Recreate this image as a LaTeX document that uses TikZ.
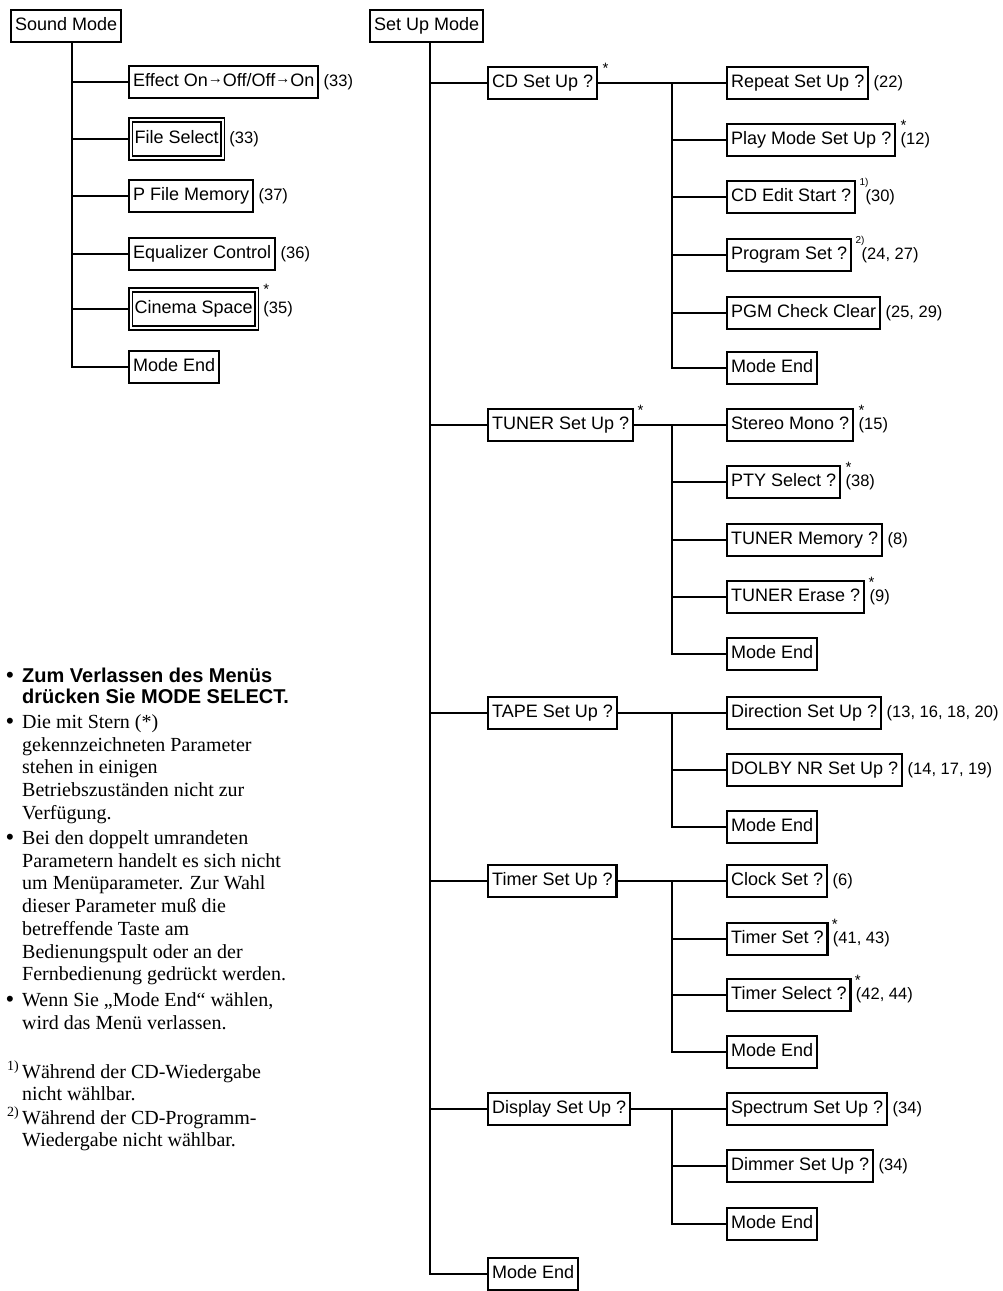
\documentclass[tikz,border=0pt]{standalone}
\usepackage{fontspec}
\setmainfont{Liberation Sans}
\newfontfamily\notefont{Liberation Serif}
\usetikzlibrary{positioning}

\newcommand\sarr{{\fontsize{15}{15}\selectfont\raisebox{3pt}{→}}}
\newcommand\lines[1]{\begin{tabular}[t]{@{}l@{}}#1\end{tabular}}

\tikzset{
  menu/.style={draw, line width=2.4pt, anchor=west, font=\fontsize{18}{18}\selectfont,
    inner xsep=4pt, inner ysep=0pt, minimum height=31.5pt, text height=13pt, text depth=4pt},
  dmenu/.style={menu, double, double distance=2pt, line width=1.6pt, minimum height=38pt, outer sep=2.6pt},
  pg/.style={font=\fontsize{16.5}{16.5}\selectfont, inner sep=2pt, text height=13pt, text depth=4pt},
  star/.style={font=\fontsize{15}{15}\selectfont, inner sep=0pt},
  fnm/.style={font=\fontsize{10}{10}\selectfont, inner sep=0pt, anchor=north west},
  link/.style={line width=2.4pt},
  note/.style={anchor=base west, inner sep=0pt, font=\notefont\fontsize{20}{22.7}\selectfont},
  notebf/.style={anchor=base west, inner sep=0pt, font=\fontsize{20}{21}\selectfont\bfseries},
  bul/.style={anchor=base west, inner sep=0pt, font=\fontsize{22}{22}\selectfont},
}

\begin{document}
\begin{tikzpicture}[x=1pt,y=-1pt]
\useasboundingbox (0,0) rectangle (1002,1291);

% sound mode
\node[menu] (sm) at (10,26) {Sound Mode};
\node[menu] (sm1) at (128,82) {Effect On\sarr Off/Off\sarr On};
\node[dmenu] (sm2) at (128,139) {File Select};
\node[menu] (sm3) at (128,196) {P File Memory};
\node[menu] (sm4) at (128,254) {Equalizer Control};
\node[dmenu] (sm5) at (128,309) {Cinema Space};
\node[menu] (sm6) at (128,367) {Mode End};
\node[pg, right=2pt of sm1] (p1) {(33)};
\node[pg, right=2pt of sm2] (p2) {(33)};
\node[pg, right=2pt of sm3] (p3) {(37)};
\node[pg, right=2pt of sm4] (p4) {(36)};
\node[pg, right=2pt of sm5] (p5) {(35)};
\node[star] (s5) at ([xshift=7pt,yshift=-2pt]sm5.north east) {*};
\foreach \i in {1,...,6}
  \draw[link] ([xshift=6pt]sm.south) |- (sm\i.west);

% set up mode
\node[menu] (su) at (369,26) {Set Up Mode};
\node[menu] (cd) at (487,83) {CD Set Up ?};
\node[menu] (tu) at (487,425) {TUNER Set Up ?};
\node[menu] (ta) at (487,713) {TAPE Set Up ?};
\node[menu] (ti) at (487,881) {Timer Set Up ?};
\node[menu] (di) at (487,1109) {Display Set Up ?};
\node[menu] (me) at (487,1274) {Mode End};
\node[star] (scd) at ([xshift=7pt,yshift=-2pt]cd.north east) {*};
\node[star] (stu) at ([xshift=6pt,yshift=-2pt]tu.north east) {*};
\foreach \n in {cd,tu,ta,ti,di,me}
  \draw[link] ([xshift=3.5pt]su.south) |- (\n.west);

% cd
\node[menu] (cd1) at (726,83) {Repeat Set Up ?};
\node[menu] (cd2) at (726,140) {Play Mode Set Up ?};
\node[menu] (cd3) at (726,197) {CD Edit Start ?};
\node[menu] (cd4) at (726,255) {Program Set ?};
\node[menu] (cd5) at (726,313) {PGM Check Clear};
\node[menu] (cd6) at (726,368) {Mode End};
\node[pg, right=2pt of cd1] (q1) {(22)};
\node[pg, right=2pt of cd2] (q2) {(12)};
\node[star] (s2) at ([xshift=7pt,yshift=-2pt]cd2.north east) {*};
\node[fnm] (f1) at ([xshift=3pt,yshift=2pt]cd3.north east) {1)};
\node[pg, right=7pt of cd3] (q3) {(30)};
\node[fnm] (f2) at ([xshift=3pt,yshift=2pt]cd4.north east) {2)};
\node[pg, right=7pt of cd4] (q4) {(24, 27)};
\node[pg, right=2pt of cd5] (q5) {(25, 29)};
\coordinate (cdj) at (672,83);
\draw[link] (cd.east) -- (cd1.west);
\foreach \i in {2,...,6}
  \draw[link] (cdj) |- (cd\i.west);

% tuner
\node[menu] (tu1) at (726,425) {Stereo Mono ?};
\node[menu] (tu2) at (726,482) {PTY Select ?};
\node[menu] (tu3) at (726,540) {TUNER Memory ?};
\node[menu] (tu4) at (726,597) {TUNER Erase ?};
\node[menu] (tu5) at (726,654) {Mode End};
\node[star] (t1) at ([xshift=7pt,yshift=-2pt]tu1.north east) {*};
\node[pg, right=2pt of tu1] (u1) {(15)};
\node[star] (t2) at ([xshift=7pt,yshift=-2pt]tu2.north east) {*};
\node[pg, right=2pt of tu2] (u2) {(38)};
\node[pg, right=2pt of tu3] (u3) {(8)};
\node[star] (t4) at ([xshift=6pt,yshift=-2pt]tu4.north east) {*};
\node[pg, right=2pt of tu4] (u4) {(9)};
\coordinate (tuj) at (672,425);
\draw[link] (tu.east) -- (tu1.west);
\foreach \i in {2,...,5}
  \draw[link] (tuj) |- (tu\i.west);

% tape
\node[menu] (ta1) at (726,713) {Direction Set Up ?};
\node[menu] (ta2) at (726,770) {DOLBY NR Set Up ?};
\node[menu] (ta3) at (726,827) {Mode End};
\node[pg, right=2pt of ta1] (v1) {(13, 16, 18, 20)};
\node[pg, right=2pt of ta2] (v2) {(14, 17, 19)};
\coordinate (taj) at (672,713);
\draw[link] (ta.east) -- (ta1.west);
\foreach \i in {2,3}
  \draw[link] (taj) |- (ta\i.west);

% timer
\node[menu] (ti1) at (726,881) {Clock Set ?};
\node[menu] (ti2) at (726,939) {Timer Set ?};
\node[menu] (ti3) at (726,995) {Timer Select ?};
\node[menu] (ti4) at (726,1052) {Mode End};
\node[pg, right=2pt of ti1] (w1) {(6)};
\node[star] (x2) at ([xshift=6pt,yshift=-2pt]ti2.north east) {*};
\node[pg, right=2pt of ti2] (w2) {(41, 43)};
\node[star] (x3) at ([xshift=6pt,yshift=-2pt]ti3.north east) {*};
\node[pg, right=2pt of ti3] (w3) {(42, 44)};
\coordinate (tij) at (672,881);
\draw[link] (ti.east) -- (ti1.west);
\foreach \i in {2,...,4}
  \draw[link] (tij) |- (ti\i.west);

% display
\node[menu] (di1) at (726,1109) {Spectrum Set Up ?};
\node[menu] (di2) at (726,1166) {Dimmer Set Up ?};
\node[menu] (di3) at (726,1224) {Mode End};
\node[pg, right=2pt of di1] (y1) {(34)};
\node[pg, right=2pt of di2] (y2) {(34)};
\coordinate (dij) at (672,1109);
\draw[link] (di.east) -- (di1.west);
\foreach \i in {2,3}
  \draw[link] (dij) |- (di\i.west);

% notes
\node[bul] (b1) at (6,682) {•};
\node[notebf] (n1) at (22,682) {\lines{Zum Verlassen des Menüs\\drücken Sie MODE SELECT.}};
\node[bul] (b2) at (6,728.5) {•};
\node[note] (n2) at (22,728.5) {\lines{Die mit Stern (*)\\gekennzeichneten Parameter\\stehen in einigen\\Betriebszuständen nicht zur\\Verfügung.}};
\node[bul] (b3) at (6,844.5) {•};
\node[note] (n3) at (22,844.5) {\lines{Bei den doppelt umrandeten\\Parametern handelt es sich nicht\\um Menüparameter. Zur Wahl\\dieser Parameter muß die\\betreffende Taste am\\Bedienungspult oder an der\\Fernbedienung gedrückt werden.}};
\node[bul] (b4) at (6,1006.5) {•};
\node[note] (n4) at (22,1006.5) {\lines{Wenn Sie „Mode End“ wählen,\\wird das Menü verlassen.}};
\node[note] (m1) at (7,1078) {\textsuperscript{1)}};
\node[note] (n5) at (22,1078) {\lines{Während der CD-Wiedergabe\\nicht wählbar.}};
\node[note] (m2) at (7,1124) {\textsuperscript{2)}};
\node[note] (n6) at (22,1124) {\lines{Während der CD-Programm-\\Wiedergabe nicht wählbar.}};
\end{tikzpicture}
\end{document}
